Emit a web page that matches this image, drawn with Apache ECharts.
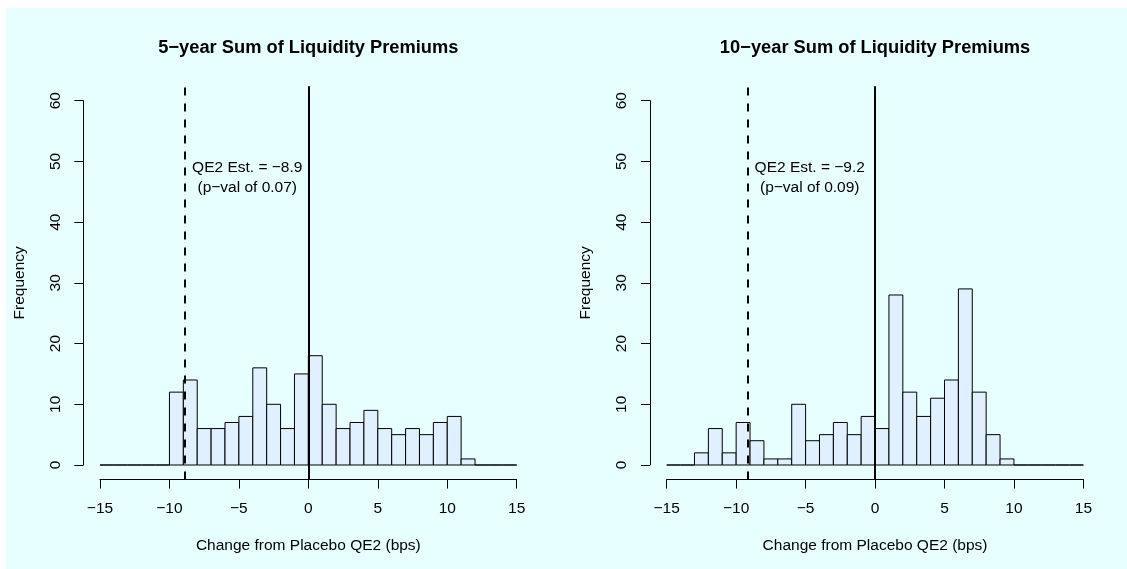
<!DOCTYPE html>
<html>
<head>
<meta charset="utf-8">
<script src="https://cdn.jsdelivr.net/npm/echarts@6/dist/echarts.min.js"></script>
<style>
  html, body { margin: 0; padding: 0; background: #ffffff; }
  #bg { position: absolute; left: 6px; top: 8px; width: 1121px; height: 561px; background: #E8FFFF; }
  #chart { position: absolute; left: 0; top: 0; width: 1127px; height: 569px; }
</style>
</head>
<body>
<div id="bg"></div>
<div id="chart"></div>
<script>
// ---- data ----
const binStarts = [-15,-14,-13,-12,-11,-10,-9,-8,-7,-6,-5,-4,-3,-2,-1,0,1,2,3,4,5,6,7,8,9,10,11,12,13,14];
const binWidth = 1;
const counts5yr  = [0,0,0,0,0,12,14,6,6,7,8,16,10,6,15,18,10,6,7,9,6,5,6,5,7,8,1,0,0,0];
const counts10yr = [0,0,2,6,2,7,4,1,1,10,4,5,7,5,8,6,28,12,8,11,14,29,12,5,1,0,0,0,0,0];
const titles = ['5\u2212year Sum of Liquidity Premiums', '10\u2212year Sum of Liquidity Premiums'];
const estimates = [-8.9, -9.2];
const pvals = ['0.07', '0.09'];
const xTicks = [-15, -10, -5, 0, 5, 10, 15];
const yTicks = [0, 10, 20, 30, 40, 50, 60];
const xLabel = 'Change from Placebo QE2 (bps)';
const yLabel = 'Frequency';

const FONT = "'Liberation Sans', Arial, Helvetica, sans-serif";
const FS = 15.5;
const fmt = v => (v < 0 ? '\u2212' + Math.abs(v) : String(v));

const panels = [
  { left: 100, counts: counts5yr },
  { left: 666.7, counts: counts10yr }
];
const PW = 416.7, PTOP = 100.7, PH = 364.3;
const xStep = PW / (xTicks[xTicks.length - 1] - xTicks[0]);
const yStep = PH / (yTicks[yTicks.length - 1] - yTicks[0]);

const grids = [], xAxes = [], yAxes = [], series = [], graphics = [];

function renderBin(params, api) {
  const p0 = api.coord([api.value(0), api.value(2)]);
  const p1 = api.coord([api.value(1), 0]);
  return {
    type: 'rect',
    shape: { x: p0[0], y: p0[1], width: p1[0] - p0[0], height: p1[1] - p0[1] },
    style: { fill: '#E0F0FF', stroke: '#000000', lineWidth: 1 }
  };
}

panels.forEach((p, i) => {
  const xmin = xTicks[0], xmax = xTicks[xTicks.length - 1];
  const ymin = yTicks[0], ymax = yTicks[yTicks.length - 1];
  const xr = (xmax - xmin) * 0.04, yr = (ymax - ymin) * 0.04;
  const offX = xr * xStep, offY = yr * yStep;

  grids.push({ left: p.left, top: PTOP, width: PW, height: PH, containLabel: false });
  const gVis = grids.length - 1;
  grids.push({ left: p.left - offX, top: PTOP - offY, width: PW + 2 * offX, height: PH + 2 * offY, containLabel: false });
  const gFull = grids.length - 1;

  xAxes.push({
    gridIndex: gVis, type: 'value', min: xmin, max: xmax, interval: 5,
    position: 'bottom', offset: offY,
    axisLine: { show: true, onZero: false, lineStyle: { color: '#000', width: 1 } },
    axisTick: { show: true, length: 9, lineStyle: { color: '#000', width: 1 } },
    axisLabel: { show: true, margin: 21, fontSize: FS, fontFamily: FONT, color: '#000', formatter: fmt },
    splitLine: { show: false },
    name: xLabel, nameLocation: 'middle', nameGap: 58,
    nameTextStyle: { fontSize: FS, fontFamily: FONT, color: '#000' }
  });
  yAxes.push({
    gridIndex: gVis, type: 'value', min: ymin, max: ymax, interval: 10,
    position: 'left', offset: offX,
    axisLine: { show: true, onZero: false, lineStyle: { color: '#000', width: 1 } },
    axisTick: { show: true, length: 9, lineStyle: { color: '#000', width: 1 } },
    axisLabel: { show: true, margin: 20, rotate: 90, fontSize: FS, fontFamily: FONT, color: '#000' },
    splitLine: { show: false },
    name: yLabel, nameLocation: 'middle', nameGap: 56,
    nameTextStyle: { fontSize: FS, fontFamily: FONT, color: '#000' }
  });
  const axVis = xAxes.length - 1;

  xAxes.push({ gridIndex: gFull, type: 'value', min: xmin - xr, max: xmax + xr, show: false });
  yAxes.push({ gridIndex: gFull, type: 'value', min: ymin - yr, max: ymax + yr, show: false });
  const axFull = xAxes.length - 1;

  series.push({
    type: 'custom', xAxisIndex: axVis, yAxisIndex: axVis,
    renderItem: renderBin, clip: false, silent: true,
    data: binStarts.map((s, k) => [s, s + binWidth, p.counts[k]])
  });

  series.push({
    type: 'scatter', xAxisIndex: axFull, yAxisIndex: axFull, data: [], silent: true,
    markLine: {
      silent: true, symbol: 'none', animation: false,
      label: { show: false },
      data: [
        { xAxis: estimates[i], lineStyle: { color: '#000', width: 2, type: [8, 8], opacity: 1 } },
        { xAxis: 0, lineStyle: { color: '#000', width: 2, type: 'solid', opacity: 1 } }
      ]
    }
  });

  series.push({
    type: 'scatter', xAxisIndex: axVis, yAxisIndex: axVis, silent: true,
    symbolSize: 0,
    itemStyle: { opacity: 1 },
    data: [[estimates[i] + 4.5, 47.3]],
    label: {
      show: true, position: 'inside', color: '#000000', opacity: 1,
      fontSize: FS, fontFamily: FONT,
      lineHeight: 20, align: 'center', verticalAlign: 'middle',
      formatter: 'QE2 Est. = ' + fmt(estimates[i]) + '\n(p\u2212val of ' + pvals[i] + ')'
    }
  });

  graphics.push({
    type: 'text', x: p.left + PW / 2, y: 48.3, silent: true,
    style: {
      text: titles[i], align: 'center', verticalAlign: 'middle',
      fontSize: 18.3, fontWeight: 'bold', fontFamily: FONT, fill: '#000'
    }
  });
});

const chart = echarts.init(document.getElementById('chart'), null, { renderer: 'canvas' });
chart.setOption({
  animation: false,
  backgroundColor: 'transparent',
  grid: grids,
  xAxis: xAxes,
  yAxis: yAxes,
  series: series,
  graphic: graphics
});
</script>
</body>
</html>
